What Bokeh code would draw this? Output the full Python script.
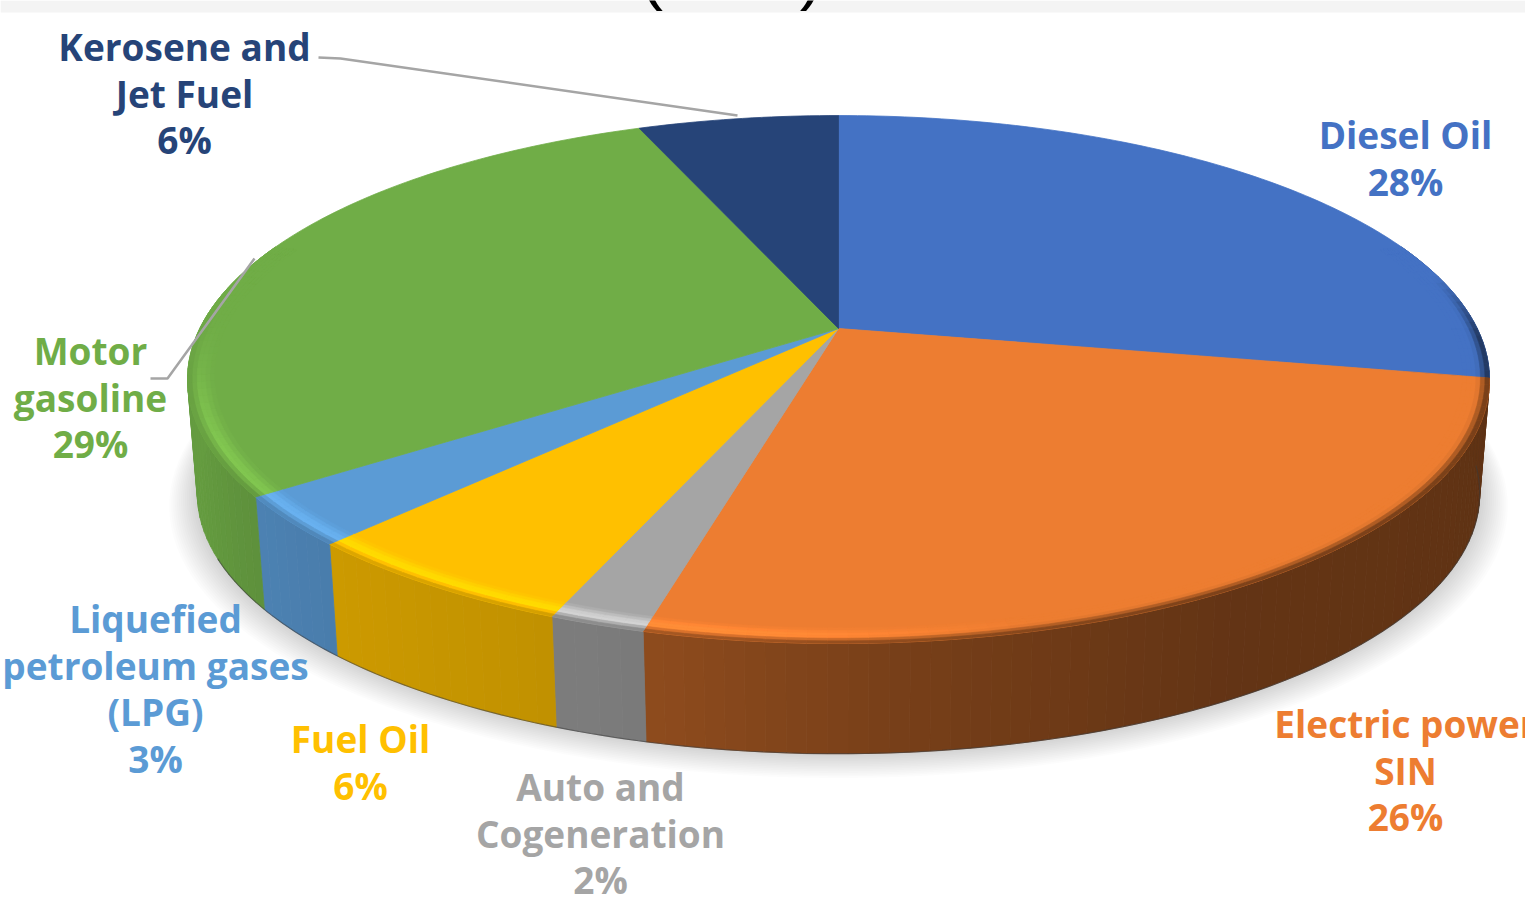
import numpy as np
from bokeh.core.properties import value
from bokeh.embed import file_html
from bokeh.models import Range1d
from bokeh.plotting import figure
from bokeh.resources import INLINE

# Share of final energy use per carrier, clockwise from twelve o'clock
categories = ["Diesel Oil", "Electric power SIN", "Auto and Cogeneration", "Fuel Oil",
              "Liquefied petroleum gases (LPG)", "Motor gasoline", "Kerosene and Jet Fuel"]
shares = [28, 26, 2, 6, 3, 29, 6]
colors = ["#4472C4", "#ED7D31", "#A5A5A5", "#FFC000", "#5B9BD5", "#70AD47", "#264478"]
label_lines = [["Diesel Oil"], ["Electric power", "SIN"], ["Auto and", "Cogeneration"], ["Fuel Oil"],
               ["Liquefied", "petroleum gases", "(LPG)"], ["Motor", "gasoline"], ["Kerosene and", "Jet Fuel"]]
label_x = [1405, 1405, 600, 360, 155, 90, 184]
label_y = [134, 723, 786, 738, 618, 350, 46]

# Perspective disc: pie centre, horizontal and vertical scale, foreshortening
CX, CY, BX, AY, K = 838.0, 328.0, 638.7, -254.1, 0.1932
WALL_DROP, WALL_SCALE = 115.0, 0.985
BEVEL_INNER = 0.96


def project(r, deg, drop=0.0, scale=1.0):
    t = np.radians(deg)
    u, v = r * np.sin(t), r * np.cos(t)
    w = 1 + K * v
    return CX + scale * BX * u / w, CY + scale * AY * v / w + drop


def rgb(h):
    return np.array([int(h[i:i + 2], 16) for i in (1, 3, 5)], dtype=float)


def to_hex(c):
    return "#%02x%02x%02x" % tuple(int(round(min(255, max(0, x)))) for x in c)


def wall_factor(deg):
    return np.interp(deg, [60, 100, 150, 175, 194.3, 194.5, 222, 232, 250, 290],
                     [.40, .40, .42, .50, .60, .74, .80, .83, .90, .90])


def bevel_amount(deg):
    return np.interp(deg, [78, 92, 255, 280], [0, 1, 1, 0])


def highlight_amount(deg):
    return np.interp(deg, [165, 188, 245, 272], [0, 1, 1, 0])


p = figure(width=1525, height=910, output_backend="svg", toolbar_location=None,
           x_range=Range1d(0, 1525), y_range=Range1d(910, 0), min_border=0,
           background_fill_color="white", border_fill_color="white")
p.axis.visible = False
p.grid.visible = False
p.outline_line_color = None

# Strip and clipped title brackets along the top edge
p.quad(left=0, right=1525, top=0, bottom=12, fill_color="#F4F4F4", line_color=None)
p.text(x=[651, 811], y=[-29, -29], text=["(", ")"], text_font=value("Liberation Sans"), text_font_size="70px",
       text_align="center", text_baseline="alphabetic", text_color="black")

# Soft shadow under the disc
for e in np.linspace(0.042, 0.004, 14):
    th = np.linspace(0, 360, 181)
    sx, sy = project(1 + e, th, WALL_DROP + 8 * e / 0.042, WALL_SCALE)
    p.patch(sx, sy, fill_color="#7f8a8f", fill_alpha=0.024, line_color=None)

edges = np.cumsum([0] + shares) * 3.6
wall_x, wall_y, wall_c = [], [], []
bev_x, bev_y, bev_c = [], [], []
bands = np.linspace(BEVEL_INNER, 1.0, 7)

for col, a0, a1 in zip(colors, edges[:-1], edges[1:]):
    face = rgb(col)
    # Outer wall, one narrow quad per step so its shade can follow the angle
    lo, hi = max(a0, 70.0), min(a1, 290.0)
    if lo < hi:
        steps = np.linspace(lo, hi, max(2, int((hi - lo) / 1.5) + 1))
        for d0, d1 in zip(steps[:-1], steps[1:]):
            xa, ya = project(1, np.array([d0, d1]))
            xb, yb = project(1, np.array([d1, d0]), WALL_DROP, WALL_SCALE)
            wall_x.append(list(xa) + list(xb))
            wall_y.append(list(ya) + list(yb))
            wall_c.append(to_hex(face * wall_factor((d0 + d1) / 2)))

            # Rounded edge between the top face and the wall
            mid = (d0 + d1) / 2
            lit = face * np.array([1.18, 1.17, 1.15]) if col != "#A5A5A5" else face * 1.32
            wall = face * wall_factor(mid)
            peak = face + (lit - face) * highlight_amount(mid)
            for i in range(len(bands) - 1):
                s = (i + 0.5) / (len(bands) - 1)
                shade = face + (peak - face) * s / 0.55 if s < 0.55 else peak + (wall - peak) * (s - 0.55) / 0.45
                shade = face + (shade - face) * bevel_amount(mid)
                xi, yi = project(bands[i], np.array([d0, d1]))
                xo, yo = project(bands[i + 1], np.array([d1, d0]))
                bev_x.append(list(xi) + list(xo))
                bev_y.append(list(yi) + list(yo))
                bev_c.append(to_hex(shade))

p.patches(wall_x, wall_y, fill_color=wall_c, line_color=wall_c, line_width=0.8)

# Dark contour along the foot of the wall
foot_x, foot_y = project(1, np.linspace(95, 245, 160), WALL_DROP, WALL_SCALE)
p.line(foot_x, foot_y, line_color="#3a3a3a", line_width=1.2, line_alpha=0.55)

# Top face of each slice
for col, a0, a1 in zip(colors, edges[:-1], edges[1:]):
    th = np.linspace(a0, a1, max(3, int(a1 - a0) + 1))
    ax, ay = project(1, th)
    p.patch([CX] + list(ax), [CY] + list(ay), fill_color=col, line_color=col, line_width=0.8)

p.patches(bev_x, bev_y, fill_color=bev_c, line_color=bev_c, line_width=0.6)

# Leader lines for the two labels that sit away from their slices
p.line([318, 340, 737], [57, 58, 115], line_color="#A5A5A5", line_width=2.5)
p.line([150, 167, 254], [378, 378, 258], line_color="#A5A5A5", line_width=2.5)

# Labels: name lines followed by the share
LINE_STEP = 46.6
for lines, share, col, x0, y0 in zip(label_lines, shares, colors, label_x, label_y):
    rows = lines + [f"{share}%"]
    p.text(x=[x0] * len(rows), y=[y0 + i * LINE_STEP for i in range(len(rows))], text=rows,
           text_font=value("Open Sans"), text_font_style="bold", text_font_size="37px",
           text_align="center", text_baseline="middle", text_color=col)

open("out.html", "w").write(file_html(p, INLINE))
